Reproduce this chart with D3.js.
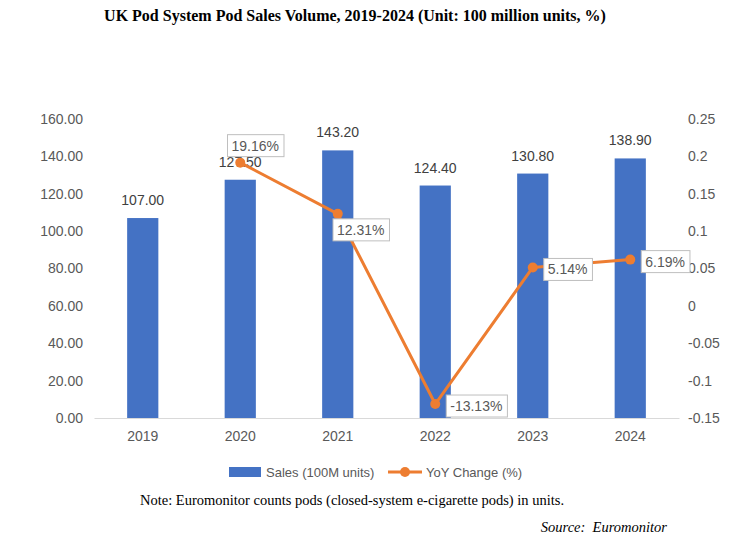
<!DOCTYPE html>
<html>
    <head>
        <title>UK Pod System Pod Sales Volume</title>
        <meta charset="UTF-8">
        <script src="https://cdn.jsdelivr.net/npm/d3@7/dist/d3.min.js"></script>
        <style>
body { margin: 0; background: #fff; }
text { font-family: "Liberation Sans", Arial, sans-serif; }
.serif { font-family: "Liberation Serif", "Times New Roman", serif; }
        </style>
    </head>
	<body>
		<script>
// data
var years = ["2019", "2020", "2021", "2022", "2023", "2024"];
var sales = [107.00, 127.50, 143.20, 124.40, 130.80, 138.90];
var yoy = [null, 0.1916, 0.1231, -0.1313, 0.0514, 0.0619];
var leftTicks = [0, 20, 40, 60, 80, 100, 120, 140, 160];
var rightTicks = [-0.15, -0.1, -0.05, 0, 0.05, 0.1, 0.15, 0.2, 0.25];
var seriesNames = ["Sales (100M units)", "YoY Change (%)"];

var W = 738, H = 544;
var pl = 94, pr = 679, pt = 119, pb = 418;
var blue = "#4472C4", orange = "#ED7D31", grey = "#595959";

var svg = d3.select("body").append("svg")
    .attr("width", W)
    .attr("height", H);

var x = d3.scaleBand().domain(years).range([pl, pr]).paddingInner(0.68).paddingOuter(0.34);
var y = d3.scaleLinear().domain([0, 160]).range([pb, pt]);
var y2 = d3.scaleLinear().domain([-0.15, 0.25]).range([pb, pt]);

// title
svg.append("text")
    .attr("class", "serif")
    .attr("x", 355).attr("y", 21)
    .attr("text-anchor", "middle")
    .attr("font-size", 16).attr("font-weight", "bold")
    .attr("fill", "#000")
    .text("UK Pod System Pod Sales Volume, 2019-2024 (Unit: 100 million units, %)");

// left axis
var ax = svg.append("g").attr("transform", "translate(" + (pl - 11) + ",0)")
    .call(d3.axisLeft(y).tickValues(leftTicks).tickSize(0).tickPadding(0).tickFormat(d3.format(".2f")));
ax.select(".domain").remove();
ax.selectAll("text").attr("font-size", 14).attr("fill", grey).attr("font-family", "Liberation Sans, Arial, sans-serif");

// right axis
var ax2 = svg.append("g").attr("transform", "translate(" + (pr + 9) + ",0)")
    .call(d3.axisRight(y2).tickValues(rightTicks).tickSize(0).tickPadding(0).tickFormat(function(d){ return String(+d.toFixed(2)); }));
ax2.select(".domain").remove();
ax2.selectAll("text").attr("font-size", 14).attr("fill", grey).attr("font-family", "Liberation Sans, Arial, sans-serif");

// x axis
var axb = svg.append("g").attr("transform", "translate(0," + pb + ")")
    .call(d3.axisBottom(x).tickSize(0).tickPadding(13));
axb.select(".domain").attr("stroke", "#d9d9d9").attr("stroke-width", 1);
axb.selectAll("text").attr("font-size", 14).attr("fill", grey).attr("font-family", "Liberation Sans, Arial, sans-serif");

// bars
svg.selectAll("rect.bar")
    .data(sales)
    .enter()
    .append("rect")
    .attr("class", "bar")
    .attr("x", function(d, i){ return x(years[i]); })
    .attr("y", function(d){ return y(d); })
    .attr("width", x.bandwidth())
    .attr("height", function(d){ return pb - y(d); })
    .attr("fill", blue);

svg.selectAll("text.barlab")
    .data(sales)
    .enter()
    .append("text")
    .attr("class", "barlab")
    .attr("x", function(d, i){ return x(years[i]) + x.bandwidth() / 2; })
    .attr("y", function(d){ return y(d) - 13; })
    .attr("text-anchor", "middle")
    .attr("font-size", 14)
    .attr("fill", "#404040")
    .text(function(d){ return d.toFixed(2); });

// line
var pts = yoy.map(function(d, i){ return {year: years[i], v: d}; }).filter(function(d){ return d.v !== null; });
var cx = function(d){ return x(d.year) + x.bandwidth() / 2; };

svg.append("path")
    .datum(pts)
    .attr("fill", "none")
    .attr("stroke", orange)
    .attr("stroke-width", 3)
    .attr("stroke-linejoin", "round")
    .attr("d", d3.line().x(cx).y(function(d){ return y2(d.v); }));

svg.selectAll("circle.pt")
    .data(pts)
    .enter()
    .append("circle")
    .attr("class", "pt")
    .attr("cx", cx)
    .attr("cy", function(d){ return y2(d.v); })
    .attr("r", 5)
    .attr("fill", orange);

// percent labels in boxes; 2020 sits above, 2021 below-right, rest to the right
var place = function(d, i){
    var px = cx(d), py = y2(d.v);
    if(i == 0) return {x: px + 15, y: py - 17, anchor: "middle"};
    if(i == 1) return {x: px + 23, y: py + 16, anchor: "middle"};
    return {x: px + 15, y: py + 2, anchor: "start"};
};
var labs = svg.selectAll("g.pl")
    .data(pts)
    .enter()
    .append("g")
    .attr("class", "pl");
labs.each(function(d, i){
    var p = place(d, i);
    var g = d3.select(this);
    var r = g.append("rect");
    var t = g.append("text")
        .attr("x", p.x).attr("y", p.y)
        .attr("dy", "0.35em")
        .attr("text-anchor", p.anchor)
        .attr("font-size", 14)
        .attr("fill", grey)
        .text((d.v * 100).toFixed(2) + "%");
    var b = t.node().getBBox();
    r.attr("x", b.x - 4).attr("y", p.y - 11)
        .attr("width", b.width + 9).attr("height", 22)
        .attr("fill", "#fff").attr("stroke", "#bfbfbf").attr("stroke-width", 1);
});

// legend
var lg = svg.append("g");
lg.append("rect").attr("x", 229).attr("y", 467).attr("width", 32).attr("height", 10).attr("fill", blue);
lg.append("text").attr("x", 266).attr("y", 472).attr("dy", "0.35em")
    .attr("font-size", 13).attr("fill", grey).text(seriesNames[0]);
lg.append("line").attr("x1", 388).attr("x2", 422).attr("y1", 472).attr("y2", 472)
    .attr("stroke", orange).attr("stroke-width", 3);
lg.append("circle").attr("cx", 405).attr("cy", 472).attr("r", 5).attr("fill", orange);
lg.append("text").attr("x", 426).attr("y", 472).attr("dy", "0.35em")
    .attr("font-size", 13).attr("fill", grey).text(seriesNames[1]);

// note and source
svg.append("text")
    .attr("class", "serif")
    .attr("x", 140).attr("y", 505)
    .attr("font-size", 14.5).attr("fill", "#000")
    .text("Note: Euromonitor counts pods (closed-system e-cigarette pods) in units.");
svg.append("text")
    .attr("class", "serif")
    .attr("x", 667).attr("y", 532)
    .attr("text-anchor", "end")
    .attr("font-size", 14.5).attr("font-style", "italic").attr("fill", "#000")
    .attr("xml:space", "preserve")
    .text("Source:  Euromonitor");
		</script>
	</body>
</html>
